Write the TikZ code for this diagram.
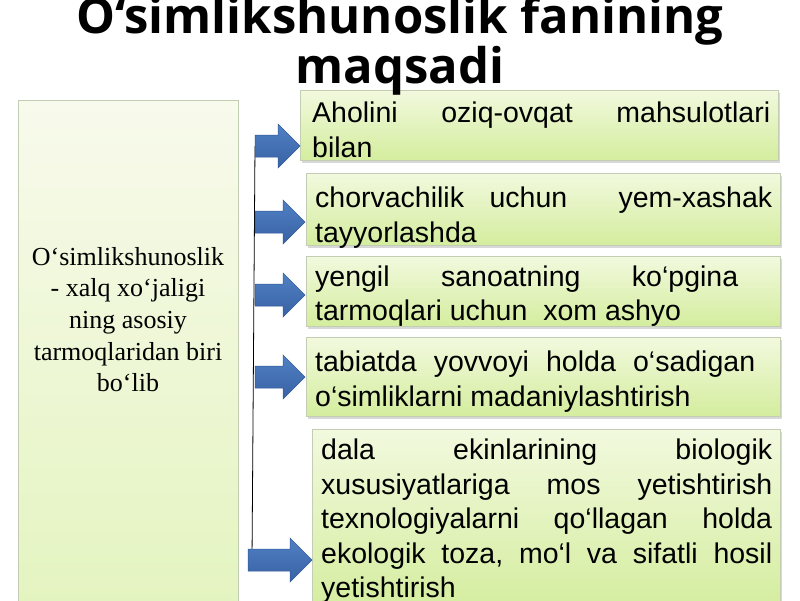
\documentclass[tikz,border=0pt]{standalone}
\usepackage{fontspec}
\setmainfont{Liberation Serif}
\setsansfont{Liberation Sans}
\newfontfamily\titlefont{Open Sans}
\usetikzlibrary{shadows}
\definecolor{lbtop}{RGB}{248,250,236}
\definecolor{lbbot}{RGB}{228,244,192}
\definecolor{rbtop}{RGB}{242,249,222}
\definecolor{rbbot}{RGB}{212,237,158}
\definecolor{bedge}{RGB}{195,205,180}
\definecolor{arrtop}{RGB}{80,128,196}
\definecolor{arrbot}{RGB}{56,98,164}
\definecolor{arredge}{RGB}{50,90,155}
\tikzset{
  leftbox/.style={draw=bedge, line width=0.8pt, top color=lbtop, bottom color=lbbot},
  rightbox/.style={draw=bedge, line width=0.8pt, top color=rbtop, bottom color=rbbot,
     drop shadow={shadow xshift=2pt, shadow yshift=-2.5pt, opacity=0.25, fill=black!60}},
  bodytxt/.style={anchor=base west, inner sep=0pt, font=\sffamily\fontsize{28.5}{34}\selectfont},
  lefttxt/.style={anchor=base, inner sep=0pt, font=\rmfamily\fontsize{26}{32}\selectfont},
  titletxt/.style={anchor=base, inner sep=0pt, font=\titlefont\bfseries\fontsize{49}{52}\selectfont},
  arrowfill/.style={top color=arrtop, bottom color=arrbot, draw=arredge, line width=0.5pt},
}
\newcommand\bluearrow[4]{% tail x, head base x, tip x, center y
  \path[arrowfill] (#1,#4-11) -- (#2,#4-11) -- (#2,#4-22) -- (#3,#4) -- (#2,#4+22) -- (#2,#4+11) -- (#1,#4+11) -- cycle;}
\begin{document}
\begin{tikzpicture}[x=1pt,y=-1pt]
\useasboundingbox[fill=white] (0,0) rectangle (800,600);

% boxes
\path[leftbox] (18,100) rectangle (238,606);

\path[rightbox] (300,90) rectangle (778,160);
\path[rightbox] (306,173) rectangle (780,245);
\path[rightbox] (306,256) rectangle (780,326);
\path[rightbox] (306,337) rectangle (780,416);
\path[rightbox] (312,429) rectangle (780,612);

% title
\node[titletxt] (t1) at (400,33) {O‘simlikshunoslik fanining};
\node[titletxt] (t2) at (400,83) {maqsadi};

% left text
\node[lefttxt] (l1) at (128,265) {O‘simlikshunoslik};
\node[lefttxt] (l2) at (128,296) {- xalq xo‘jaligi};
\node[lefttxt] (l3) at (128,328) {ning asosiy};
\node[lefttxt] (l4) at (128,360) {tarmoqlaridan biri};
\node[lefttxt] (l5) at (128,391) {bo‘lib};

% right text
\node[bodytxt] (a1) at (312,122) {\makebox[458pt][s]{Aholini\hfill oziq-ovqat\hfill mahsulotlari}};
\node[bodytxt] (a2) at (312,157) {bilan};

\node[bodytxt] (b1) at (315,207) {\makebox[457pt][s]{chorvachilik\hfill uchun\hfill\hfill yem-xashak}};
\node[bodytxt] (b2) at (315,242) {tayyorlashda};

\node[bodytxt] (c1) at (315,286) {\makebox[423pt][s]{yengil\hfill sanoatning\hfill ko‘pgina}};
\node[bodytxt] (c2) at (315,320) {tarmoqlari uchun\ \ xom ashyo};

\node[bodytxt] (d1) at (315,371) {\makebox[440pt][s]{tabiatda\hfill yovvoyi\hfill holda\hfill o‘sadigan}};
\node[bodytxt] (d2) at (315,406) {o‘simliklarni madaniylashtirish};

\node[bodytxt] (e1) at (321,459) {\makebox[451pt][s]{dala\hfill ekinlarining\hfill biologik}};
\node[bodytxt] (e2) at (321,494) {\makebox[451pt][s]{xususiyatlariga\hfill mos\hfill yetishtirish}};
\node[bodytxt] (e3) at (321,528) {\makebox[451pt][s]{texnologiyalarni\hfill qo‘llagan\hfill holda}};
\node[bodytxt] (e4) at (321,563) {\makebox[451pt][s]{ekologik\hfill toza,\hfill mo‘l\hfill va\hfill sifatli\hfill hosil}};
\node[bodytxt] (e5) at (321,597) {yetishtirish};

% connector line
\coordinate (top) at (255,146);
\coordinate (bot) at (252,560);
\draw[black, line width=0.8pt] (top) -- (bot);

% arrows
\bluearrow{255}{278}{300}{146}
\bluearrow{255}{283}{305}{222}
\bluearrow{255}{283}{305}{295}
\bluearrow{255}{283}{305}{377}
\bluearrow{248}{290}{312}{560}
\end{tikzpicture}
\end{document}
